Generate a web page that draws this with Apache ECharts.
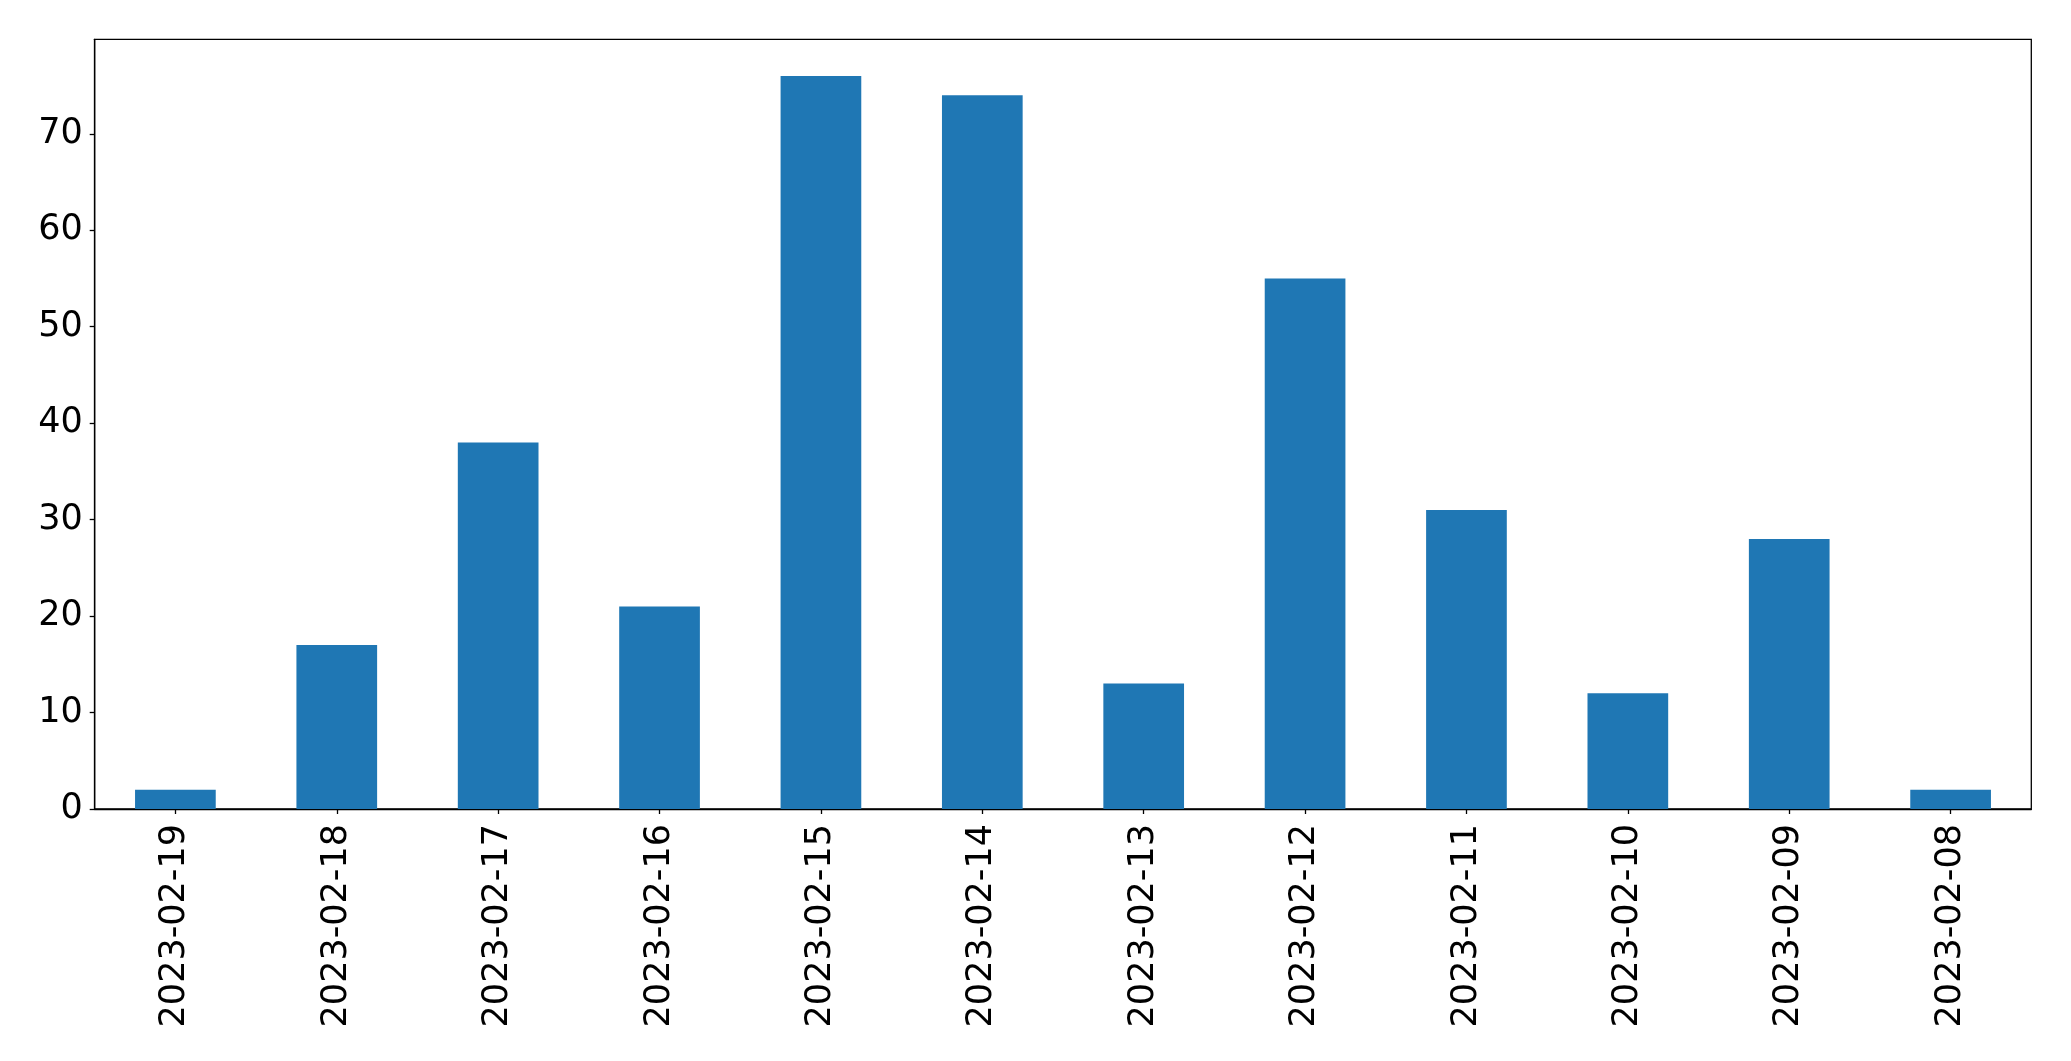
<!DOCTYPE html>
<html>
<head>
<meta charset="utf-8">
<script src="https://cdn.jsdelivr.net/npm/echarts@6/dist/echarts.min.js"></script>
<style>
html,body{margin:0;padding:0;background:#fff;}
#chart{width:2071px;height:1061px;}
</style>
</head>
<body>
<div id="chart"></div>
<script>
const categories = ["2023-02-19","2023-02-18","2023-02-17","2023-02-16","2023-02-15","2023-02-14","2023-02-13","2023-02-12","2023-02-11","2023-02-10","2023-02-09","2023-02-08"];
const values = [2, 17, 38, 21, 76, 74, 13, 55, 31, 12, 28, 2];
const yTicks = [0, 10, 20, 30, 40, 50, 60, 70];

const chart = echarts.init(document.getElementById('chart'), null, {renderer: 'canvas'});
const font = 'DejaVu Sans';
chart.setOption({
  animation: false,
  backgroundColor: '#ffffff',
  grid: {
    left: 94.7, right: 39.7, top: 39.3, bottom: 252,
    show: true, borderColor: '#000000', borderWidth: 1.3, backgroundColor: 'transparent'
  },
  xAxis: {
    type: 'category',
    data: categories,
    boundaryGap: true,
    axisLine: {show: true, lineStyle: {color: '#000', width: 1.3}},
    axisTick: {show: true, alignWithLabel: true, length: 5, lineStyle: {color: '#000', width: 1.3}},
    axisLabel: {rotate: 90, margin: 15, color: '#000', fontSize: 35, fontFamily: font, interval: 0},
    splitLine: {show: false}
  },
  yAxis: {
    type: 'value',
    min: 0, max: 79.8, interval: 10,
    axisLine: {show: true, lineStyle: {color: '#000', width: 1.3}},
    axisTick: {show: true, length: 5, lineStyle: {color: '#000', width: 1.3}, customValues: yTicks},
    axisLabel: {margin: 12, color: '#000', fontSize: 35, fontFamily: font, customValues: yTicks},
    splitLine: {show: false}
  },
  series: [{
    type: 'bar',
    data: values,
    barWidth: '50%',
    itemStyle: {color: '#1f77b4'}
  }]
});
</script>
</body>
</html>
